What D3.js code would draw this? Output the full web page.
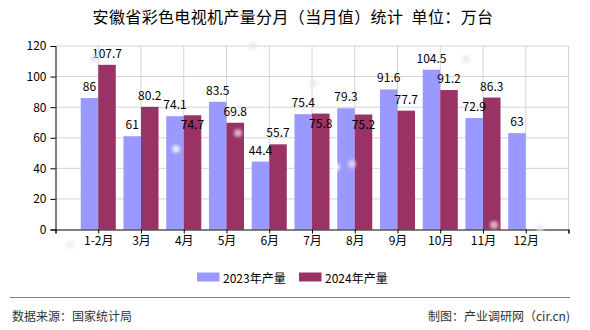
<!DOCTYPE html>
<html>
<head>
<meta charset="utf-8">
<script src="https://cdn.jsdelivr.net/npm/d3@7/dist/d3.min.js"></script>
<style>
  html, body { margin: 0; padding: 0; background: #fff; }
  svg { display: block; font-family: "Noto Sans CJK SC", "Liberation Sans", sans-serif; }
</style>
</head>
<body>
<svg id="chart" width="590" height="330"></svg>
<script>
// Monthly TV set output, Anhui province (10k units)
const months = ["1-2月", "3月", "4月", "5月", "6月", "7月", "8月", "9月", "10月", "11月", "12月"];
const seriesNames = ["2023年产量", "2024年产量"];
const values2023 = [86, 61, 74.1, 83.5, 44.4, 75.4, 79.3, 91.6, 104.5, 72.9, 63];
const values2024 = [107.7, 80.2, 74.7, 69.8, 55.7, 75.8, 75.2, 77.7, 91.2, 86.3, null];
const yTicks = [0, 20, 40, 60, 80, 100, 120];
const colors = ["#9999ff", "#993366"];

const svg = d3.select("#chart");

// Soft background glints
const defs = svg.append("defs");
defs.append("filter").attr("id", "soft").append("feGaussianBlur").attr("stdDeviation", 1.6);

// Title
svg.append("text")
  .attr("x", 293).attr("y", 16)
  .attr("text-anchor", "middle").attr("dominant-baseline", "central")
  .attr("font-size", 16).attr("fill", "#000")
  .attr("letter-spacing", 0.35)
  .text("安徽省彩色电视机产量分月（当月值）统计\u2002单位：万台");

// Scales: categories sit on tick positions 0..10, with one spare slot each side
const x = d3.scaleLinear().domain([-1, 11]).range([55.5, 568.5]);
const y = d3.scaleLinear().domain([0, 120]).range([229.5, 46]);
const step = x(1) - x(0);
const inner = d3.scaleBand().domain(seriesNames).range([-step * 0.41, step * 0.41]).padding(0);

const g = svg.append("g");

// Grid
g.append("g").selectAll("line").data(yTicks.filter(d => d > 0)).join("line")
  .attr("x1", x(-1)).attr("x2", x(11))
  .attr("y1", d => y(d)).attr("y2", d => y(d))
  .attr("stroke", "#d4d4d4").attr("stroke-width", 1);
g.append("g").selectAll("line").data(d3.range(0, 12)).join("line")
  .attr("x1", d => x(d)).attr("x2", d => x(d))
  .attr("y1", y(120)).attr("y2", y(0))
  .attr("stroke", "#d4d4d4").attr("stroke-width", 1);

// Bars
const rows = months.map((m, i) => ({ i, vals: [values2023[i], values2024[i]] }));
const groups = g.append("g").selectAll("g").data(rows).join("g")
  .attr("transform", d => `translate(${x(d.i)},0)`);
groups.selectAll("rect")
  .data(d => d.vals.map((v, k) => ({ v, k })).filter(e => e.v != null))
  .join("rect")
  .attr("x", e => inner(seriesNames[e.k]))
  .attr("width", inner.bandwidth())
  .attr("y", e => y(e.v))
  .attr("height", e => y(0) - y(e.v))
  .attr("fill", e => colors[e.k]);

// Value labels; a 2024 label drops inside its bar when it would collide with the 2023 label
groups.selectAll("text")
  .data(d => d.vals.map((v, k) => ({ v, k, other: d.vals[1 - k] })).filter(e => e.v != null))
  .join("text")
  .attr("x", e => inner(seriesNames[e.k]) + inner.bandwidth() / 2)
  .attr("y", e => {
    const top = y(e.v);
    if (e.k === 1 && e.other != null && Math.abs(y(e.other) - top) < 12) return top + 8.5;
    return top - 12.5;
  })
  .attr("text-anchor", "middle").attr("dominant-baseline", "central")
  .attr("font-size", 12).attr("fill", "#000")
  .text(e => e.v);

// Axes
const yAxis = d3.axisLeft(y).tickValues(yTicks).tickSize(5).tickPadding(4);
const yG = g.append("g").attr("transform", `translate(${x(-1)},0)`).call(yAxis);
const xAxis = d3.axisBottom(x).tickValues(d3.range(-1, 12)).tickSize(4).tickPadding(3)
  .tickFormat(i => months[i] || "");
const xG = g.append("g").attr("transform", `translate(0,${y(0)})`).call(xAxis);
[yG, xG].forEach(a => {
  a.select(".domain").attr("stroke", "#000");
  a.selectAll(".tick line").attr("stroke", "#000");
  a.selectAll(".tick text").attr("font-size", 12).attr("fill", "#000")
    .attr("font-family", "\"Noto Sans CJK SC\", sans-serif");
});

// Faint glints scattered over the plot
const glints = [
  [94, 59, "#dde0f5"], [253, 46, "#e4e6f7"], [176, 149, "#ffffff"], [238, 133, "#f0d8e4"],
  [313, 83, "#e4e6f7"], [336, 167, "#ffffff"], [352, 164, "#f0dde6"], [466, 59, "#e4e6f7"],
  [494, 225, "#f2d8e4"], [540, 228, "#e6e8f7"], [70, 245, "#e6e8f7"]
];
svg.append("g").attr("filter", "url(#soft)").attr("pointer-events", "none")
  .selectAll("circle").data(glints).join("circle")
  .attr("cx", d => d[0]).attr("cy", d => d[1]).attr("r", 4)
  .attr("fill", d => d[2]).attr("opacity", 0.75);

// Legend
const legend = svg.append("g");
const legendX = [197, 299];
seriesNames.forEach((name, k) => {
  legend.append("rect").attr("x", legendX[k]).attr("y", 272.5)
    .attr("width", 22.5).attr("height", 9).attr("fill", colors[k]);
  legend.append("text").attr("x", legendX[k] + 26).attr("y", 277)
    .attr("dominant-baseline", "central").attr("font-size", 12).attr("fill", "#000")
    .text(name);
});

// Footer
svg.append("line").attr("x1", 10).attr("x2", 570).attr("y1", 297.5).attr("y2", 297.5)
  .attr("stroke", "#808080").attr("stroke-width", 1);
svg.append("text").attr("x", 12).attr("y", 315).attr("dominant-baseline", "central")
  .attr("font-size", 12).attr("fill", "#333").text("数据来源：国家统计局");
svg.append("text").attr("x", 570).attr("y", 315).attr("text-anchor", "end")
  .attr("dominant-baseline", "central")
  .attr("font-size", 12).attr("fill", "#333").text("制图：产业调研网（cir.cn)");
</script>
</body>
</html>
